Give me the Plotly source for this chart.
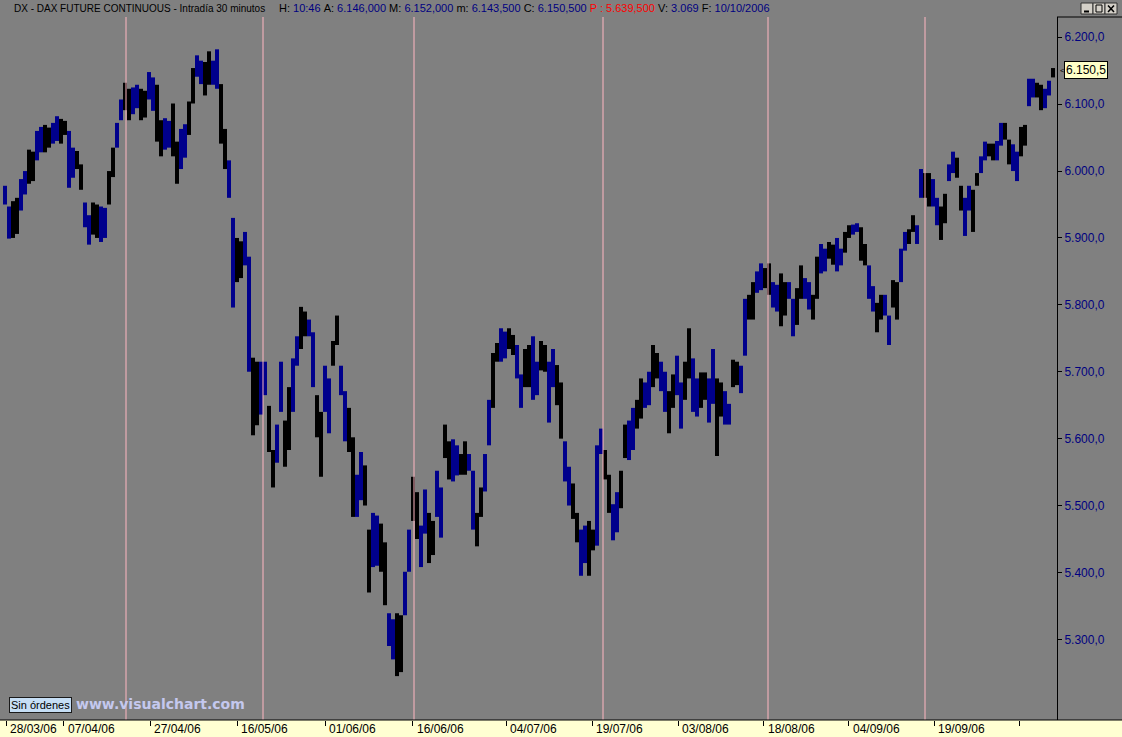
import plotly.graph_objects as go

# ---------------- data ----------------
highs = [5978,5947,5955,5960,5988,6000,6032,6029,6060,6066,
         6069,6065,6072,6082,6078,6075,6060,6035,6030,6010,
         5953,5934,5953,5950,5947,5945,6000,6035,6072,6107,
         6132,6123,6125,6129,6123,6120,6148,6140,6129,6076,
         6079,6075,6101,6044,6063,6070,6104,6154,6173,6165,
         6163,6179,6165,6182,6130,6063,6016,5930,5900,5895,
         5909,5872,5721,5715,5715,5715,5649,5583,5621,5715,
         5627,5677,5720,5753,5797,5790,5778,5759,5665,5640,
         5709,5690,5746,5784,5709,5671,5646,5602,5546,5580,
         5560,5464,5489,5485,5473,5445,5339,5330,5339,5336,
         5401,5464,5543,5520,5470,5524,5489,5477,5552,5527,
         5621,5596,5599,5590,5577,5596,5577,5552,5489,5527,
         5577,5658,5728,5743,5765,5760,5765,5755,5740,5696,
         5734,5740,5753,5715,5746,5740,5715,5734,5710,5684,
         5596,5558,5533,5489,5464,5470,5477,5464,5590,5615,
         5583,5546,5502,5520,5552,5621,5627,5646,5658,5690,
         5684,5700,5740,5728,5715,5700,5671,5696,5724,5684,
         5715,5765,5720,5690,5699,5699,5690,5734,5690,5684,
         5671,5652,5718,5715,5709,5809,5815,5834,5850,5862,
         5855,5862,5834,5830,5847,5834,5834,5809,5825,5859,
         5840,5834,5815,5872,5891,5884,5894,5890,5900,5884,
         5909,5919,5920,5922,5916,5891,5859,5828,5803,5815,
         5815,5784,5837,5834,5884,5909,5913,5934,5919,6003,
         5997,5997,5988,5960,5947,5966,6010,6029,6020,5978,
         5960,5978,5972,5997,6022,6044,6041,6041,6045,6072,
         6072,6047,6040,6029,6066,6069,6138,6138,6132,6129,
         6123,6135,6154]
lows = [5950,5899,5900,5906,5941,5965,5981,5985,6016,6028,
        6028,6035,6041,6045,6041,6054,5975,5990,6003,5972,
        5916,5890,5905,5900,5894,5900,5950,5991,6035,6076,
        6091,6076,6085,6094,6076,6080,6107,6090,6044,6022,
        6032,6035,6022,5981,6003,6020,6054,6101,6141,6130,
        6113,6129,6129,6123,6041,6003,5960,5796,5834,5840,
        5859,5700,5605,5620,5636,5665,5580,5527,5564,5640,
        5558,5583,5640,5709,5734,5753,5753,5677,5602,5543,
        5640,5608,5709,5740,5665,5596,5580,5483,5483,5508,
        5500,5370,5408,5410,5401,5351,5290,5270,5245,5251,
        5336,5401,5477,5450,5408,5458,5414,5426,5483,5452,
        5571,5539,5536,5545,5546,5546,5552,5464,5439,5483,
        5521,5590,5646,5715,5715,5720,5734,5725,5690,5646,
        5677,5677,5658,5665,5702,5700,5624,5677,5650,5600,
        5536,5500,5480,5445,5395,5414,5395,5433,5440,5577,
        5539,5489,5448,5460,5496,5571,5568,5583,5615,5630,
        5646,5650,5677,5690,5671,5640,5608,5646,5665,5615,
        5658,5690,5640,5633,5646,5658,5624,5652,5574,5633,
        5621,5621,5677,5680,5668,5724,5778,5778,5818,5822,
        5825,5815,5796,5790,5768,5784,5809,5753,5770,5809,
        5809,5793,5778,5809,5847,5850,5869,5860,5850,5859,
        5878,5900,5905,5909,5866,5859,5809,5790,5759,5778,
        5784,5740,5796,5778,5834,5881,5891,5909,5891,5960,
        5960,5947,5947,5919,5897,5922,5985,5997,5990,5941,
        5903,5941,5909,5978,5997,6016,6022,6016,6016,6038,
        6047,6010,6000,5985,6022,6038,6097,6110,6110,6091,
        6094,6113,6140]

date_labels = ["28/03/06", "07/04/06", "27/04/06", "16/05/06", "01/06/06", "16/06/06",
               "04/07/06", "19/07/06", "03/08/06", "18/08/06", "04/09/06", "19/09/06", ""]
date_bars = [0.35, 14.65, 36.25, 58.1, 80.0, 101.9, 125.25, 146.75, 168.25, 189.65,
             210.9, 232.25, 253.65]
separator_bars = [30.25, 64.5, 102.25, 149.5, 190.75, 230.0]
price_ticks = [5300, 5400, 5500, 5600, 5700, 5800, 5900, 6000, 6100, 6200]
last_price = 6150.5

header_name = "DX - DAX FUTURE CONTINUOUS - Intradía 30 minutos"
header_fields = [("H:", "10:46"), ("A:", "6.146,000"), ("M:", "6.152,000"),
                 ("m:", "6.143,500"), ("C:", "6.150,500"), ("P :", "5.639,500"),
                 ("V:", "3.069"), ("F:", "10/10/2006")]

# ---------------- layout helpers ----------------
W, H = 1122, 737
PL, PR, PT, PB = 0, 1057, 17, 720
BLUE = "#00008C"
NAVY = "#000080"
GRAY = "#808080"
FONT = "Liberation Sans, Arial, sans-serif"


def xp(px):
    return (px - PL) / (PR - PL)


def yp(py):
    return (PB - py) / (PB - PT)


def es(v):
    s = f"{v:,.1f}"
    return s.replace(",", "X").replace(".", ",").replace("X", ".")


n = len(highs)
assert n == len(lows)

fig = go.Figure()
for ci, col in enumerate([BLUE, "#000000"]):
    xs, ys = [], []
    for i in range(n):
        if (i // 2) % 2 == ci:
            xs += [i, i, None]
            ys += [lows[i], highs[i], None]
    fig.add_trace(go.Scatter(x=xs, y=ys, mode="lines",
                             line=dict(color=col, width=4),
                             hoverinfo="skip", showlegend=False))

shapes = []
for b in separator_bars:
    shapes.append(dict(type="line", xref="x", yref="paper", x0=b, x1=b, y0=0, y1=1,
                       line=dict(color="#FFB6C1", width=1), layer="above"))
# bottom date strip
shapes.append(dict(type="rect", xref="paper", yref="paper", x0=xp(0), x1=xp(W),
                   y0=yp(H + 2), y1=yp(PB), fillcolor="#FFFFD2",
                   line=dict(width=0), layer="below"))
shapes.append(dict(type="line", xref="paper", yref="paper", x0=xp(0), x1=xp(W),
                   y0=yp(PB), y1=yp(PB), line=dict(color="black", width=1)))
# top border of price panel
shapes.append(dict(type="line", xref="paper", yref="paper", x0=xp(PR), x1=xp(W),
                   y0=1, y1=1, line=dict(color="black", width=1)))
# window buttons
for bx in [1081, 1093, 1105]:
    shapes.append(dict(type="rect", xref="paper", yref="paper", x0=xp(bx), x1=xp(bx + 12),
                       y0=yp(14), y1=yp(3), fillcolor="#D4D0C8",
                       line=dict(color="#303030", width=1)))
shapes.append(dict(type="line", xref="paper", yref="paper", x0=xp(1084), x1=xp(1089),
                   y0=yp(11.5), y1=yp(11.5), line=dict(color="black", width=2)))
shapes.append(dict(type="rect", xref="paper", yref="paper", x0=xp(1096), x1=xp(1102),
                   y0=yp(12), y1=yp(5), line=dict(color="black", width=1)))
shapes.append(dict(type="line", xref="paper", yref="paper", x0=xp(1108), x1=xp(1114),
                   y0=yp(12), y1=yp(5.5), line=dict(color="black", width=1.5)))
shapes.append(dict(type="line", xref="paper", yref="paper", x0=xp(1108), x1=xp(1114),
                   y0=yp(5.5), y1=yp(12), line=dict(color="black", width=1.5)))

ann = []
# header
ann.append(dict(xref="paper", yref="paper", x=xp(12), y=yp(8), xanchor="left", yanchor="middle",
                text=header_name, showarrow=False, font=dict(family=FONT, size=10, color="black")))
parts = []
for lab, val in header_fields:
    if lab.startswith("P"):
        parts.append(f'<span style="color:#FF0000">{lab}\u00a0{val}</span>')
    else:
        parts.append(f'{lab}\u00a0<span style="color:{NAVY}">{val}</span>')
ann.append(dict(xref="paper", yref="paper", x=xp(277), y=yp(8), xanchor="left", yanchor="middle",
                text="\u00a0".join(parts), showarrow=False,
                font=dict(family=FONT, size=11, color="black")))
# date labels
for lab, b in zip(date_labels, date_bars):
    if lab:
        ann.append(dict(xref="x", yref="paper", x=b, y=yp(729), xanchor="left", yanchor="middle",
                        xshift=2, text=lab, showarrow=False,
                        font=dict(family=FONT, size=12, color="black")))
# last price box
ann.append(dict(xref="paper", yref="y", x=xp(1064), y=last_price, xanchor="left", yanchor="middle",
                text=es(last_price), showarrow=False, bgcolor="#FFFFC8", bordercolor="black",
                borderwidth=1, borderpad=1, font=dict(family=FONT, size=12, color="black")))
ann.append(dict(xref="paper", yref="y", x=xp(1058), y=last_price, xanchor="left", yanchor="middle",
                text="<", showarrow=False, font=dict(family=FONT, size=8, color="black")))
# bottom-left badges
ann.append(dict(xref="paper", yref="paper", x=xp(9), y=yp(697), xanchor="left", yanchor="top",
                text="Sin órdenes", showarrow=False, bgcolor="#C6DEF5", bordercolor="#1A1A1A",
                borderwidth=1, borderpad=1, font=dict(family=FONT, size=11, color="black")))
ann.append(dict(xref="paper", yref="paper", x=xp(74), y=yp(704), xanchor="left", yanchor="middle",
                text="<b>www.visualchart.com</b>", showarrow=False,
                font=dict(family="DejaVu Sans, sans-serif", size=14, color="#C4C8EE")))

fig.update_layout(
    width=W, height=H,
    margin=dict(l=PL, r=W - PR, t=PT, b=H - PB, pad=0),
    paper_bgcolor=GRAY, plot_bgcolor=GRAY,
    showlegend=False,
    shapes=shapes, annotations=ann,
    xaxis=dict(range=[-1.25, (PR - 5) / 4], showgrid=False, zeroline=False,
               showline=False, tickvals=date_bars, ticks="outside", ticklen=5,
               tickcolor="black", showticklabels=False, fixedrange=True),
    yaxis=dict(side="right", range=[5179.4, 6230.3], showgrid=False, zeroline=False,
               showline=True, linecolor="black", linewidth=1,
               tickvals=price_ticks, ticktext=[es(v) for v in price_ticks],
               ticks="outside", ticklen=4, tickcolor="black",
               tickfont=dict(family=FONT, size=12, color=NAVY), fixedrange=True),
)

fig.write_html("out.html", config={"displayModeBar": False},
               post_script="document.body.style.margin='0';document.body.style.overflow='hidden';")
